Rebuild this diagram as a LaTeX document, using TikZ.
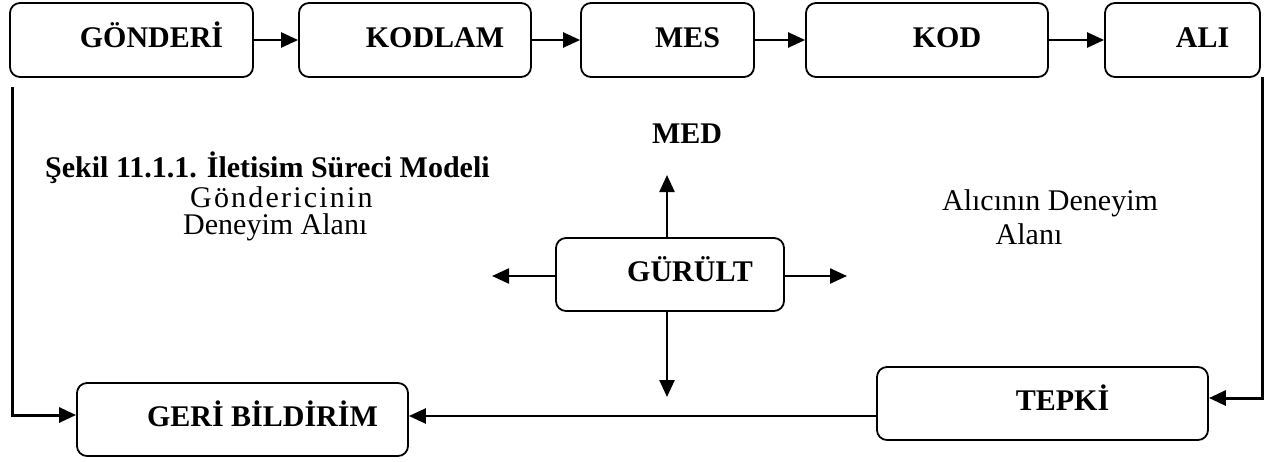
\documentclass[tikz,border=0pt]{standalone}
\usepackage{fontspec}
\setmainfont{Liberation Serif}
\usetikzlibrary{arrows.meta,calc}
\begin{document}
\begin{tikzpicture}[x=1pt,y=-1pt,
  box/.style={draw,line width=1.8pt,rounded corners=10pt,inner sep=0pt,
    minimum height=74pt,text height=21pt,text depth=7pt,
    font=\fontsize{30}{34}\selectfont\bfseries},
  arr/.style={line width=2.4pt,-{Triangle[length=17pt,width=15pt]}},
  loop/.style={line width=3pt,-{Triangle[length=17pt,width=15pt]}},
  lbl/.style={inner sep=0pt,anchor=base,font=\fontsize{30}{34}\selectfont},
  blbl/.style={inner sep=0pt,anchor=base,font=\fontsize{30}{34}\selectfont\bfseries}]
\newcommand{\bt}[1]{\hspace*{40pt}#1}
\newcommand{\ks}{\kern2.2pt}
\useasboundingbox (0,0) rectangle (1266,461);
% top row
\node[box,minimum width=243pt] (g1) at (131.5,40) {\bt{GÖNDERİ}};
\node[box,minimum width=232pt] (g2) at (415,40) {\bt{KODLAM}};
\node[box,minimum width=173pt] (g3) at (667.5,40) {\bt{MES}};
\node[box,minimum width=242pt] (g4) at (927,40) {\bt{KOD}};
\node[box,minimum width=155pt] (g5) at (1182.5,40) {\bt{ALI}};
\draw[arr] (g1) -- (g2);
\draw[arr] (g2) -- (g3);
\draw[arr] (g3) -- (g4);
\draw[arr] (g4) -- (g5);
% noise
\node[box,minimum width=228pt,minimum height=73pt] (n) at (670,274.5) {\bt{GÜRÜLT}};
\coordinate (nu) at (667,175);
\coordinate (nd) at (667,397);
\coordinate (nl) at (492,276);
\coordinate (nr) at (847,276);
\draw[arr] (n.north -| nu) -- (nu);
\draw[arr] (n.south -| nd) -- (nd);
\draw[arr] (n.west |- nl) -- (nl);
\draw[arr] (n.east |- nr) -- (nr);
% bottom row
\node[box,minimum width=331pt,minimum height=73pt] (geri) at (242.5,419.5) {\bt{GERİ BİLDİRİM}};
\node[box,minimum width=331pt,minimum height=73pt] (tepki) at (1042.5,403.5) {\bt{TEPKİ}};
\coordinate (L0) at (12,87);
\coordinate (R0) at (1262,77);
\draw[loop] (L0) |- ([yshift=4.5pt]geri.west);
\draw[loop] (R0) |- ([yshift=5.5pt]tepki.east);
\coordinate (tb) at ([yshift=-12.5pt]tepki.west);
\draw[arr] (tb) -- (tb -| geri.east);
% texts
\node[blbl] (med) at (687,143) {MED};
\node[blbl,anchor=base west] (sekil) at (45,177) {Şekil 11.1.1. İletisim Süreci Modeli};
\node[lbl,anchor=base west,text height=21pt,text depth=0pt] (gon1) at (190,207) {G\ks ö\ks n\ks d\ks e\ks r\ks i\ks c\ks i\ks n\ks i\ks n};
\node[lbl,anchor=base west,text height=20pt] (gon2) at (183,234) {Deneyim Alanı};
\node[lbl] (ali1) at (1050,210) {Alıcının Deneyim};
\node[lbl] (ali2) at (1029,244) {Alanı};
\end{tikzpicture}
\end{document}
